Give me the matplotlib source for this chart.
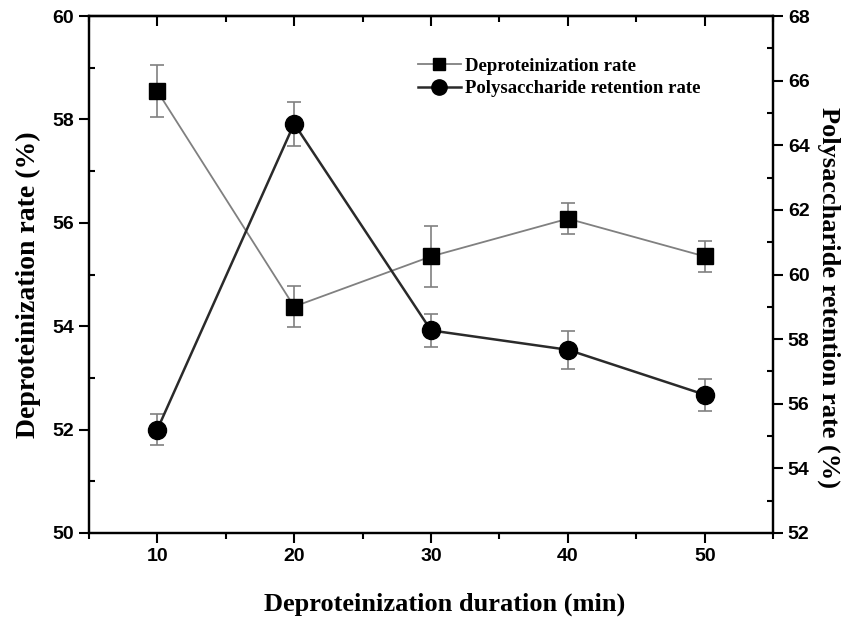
import matplotlib
matplotlib.use('Agg')
import matplotlib.pyplot as plt
from matplotlib.lines import Line2D
from matplotlib.ticker import MultipleLocator

duration = [10, 20, 30, 40, 50]
deprot_rate = [58.55, 54.38, 55.35, 56.08, 55.35]
deprot_err = [0.5, 0.4, 0.59, 0.3, 0.3]
poly_rate = [55.2, 64.67, 58.27, 57.67, 56.28]
poly_err = [0.48, 0.68, 0.5, 0.58, 0.5]

serif = 'Liberation Serif'
sans = 'Liberation Sans'

fig = plt.figure(figsize=(8.46, 6.19), dpi=100)
ax = fig.add_axes([0.105, 0.139, 0.809, 0.835])
ax2 = ax.twinx()

ax.errorbar(duration, deprot_rate, yerr=deprot_err, color='#808080', lw=1.3,
            marker='s', ms=12, mfc='black', mec='black', ecolor='#808080',
            elinewidth=1.2, capsize=5, capthick=1.2)
ax2.errorbar(duration, poly_rate, yerr=poly_err, color='#2a2a2a', lw=1.8,
             marker='o', ms=13, mfc='black', mec='black', ecolor='#808080',
             elinewidth=1.2, capsize=5, capthick=1.2)

ax.set_xlim(5, 55)
ax.set_ylim(50, 60)
ax2.set_ylim(52, 68)
ax.xaxis.set_major_locator(MultipleLocator(10))
ax.xaxis.set_minor_locator(MultipleLocator(5))
ax.yaxis.set_major_locator(MultipleLocator(2))
ax.yaxis.set_minor_locator(MultipleLocator(1))
ax2.yaxis.set_major_locator(MultipleLocator(2))
ax2.yaxis.set_minor_locator(MultipleLocator(1))

for a in (ax, ax2):
    for s in a.spines.values():
        s.set_linewidth(1.6)

ax.tick_params(axis='x', which='major', direction='out', length=7, width=1.5, top=False)
ax.tick_params(axis='x', which='minor', direction='out', length=4, width=1.5, top=False)
ax.tick_params(axis='y', which='major', direction='out', length=7, width=1.5)
ax.tick_params(axis='y', which='minor', direction='in', length=4, width=1.5)
ax2.tick_params(axis='y', which='major', direction='out', length=7, width=1.5)
ax2.tick_params(axis='y', which='minor', direction='in', length=4, width=1.5)

top = ax.secondary_xaxis('top')
top.xaxis.set_major_locator(MultipleLocator(10))
top.xaxis.set_minor_locator(MultipleLocator(5))
top.tick_params(which='major', direction='in', length=7, width=1.5, labeltop=False)
top.tick_params(which='minor', direction='in', length=4, width=1.5)
top.spines['top'].set_linewidth(1.6)

for lab in ax.get_xticklabels() + ax.get_yticklabels() + ax2.get_yticklabels():
    lab.set_fontfamily(sans)
    lab.set_fontweight('bold')
    lab.set_fontsize(14)

ax.set_xlabel('Deproteinization duration (min)', fontfamily=serif, fontweight='bold',
              fontsize=19, labelpad=20)
ax.set_ylabel('Deproteinization rate (%)', fontfamily=serif, fontweight='bold',
              fontsize=20, labelpad=8)
ax2.set_ylabel('Polysaccharide retention rate (%)', fontfamily=serif, fontweight='bold',
               fontsize=19, rotation=270, labelpad=22)
ax.xaxis.label.set_x(0.52)
ax.yaxis.label.set_y(0.48)
ax2.yaxis.label.set_y(0.455)

h1 = Line2D([], [], color='#808080', lw=1.3, marker='s', ms=9, mfc='black', mec='black')
h2 = Line2D([], [], color='#2a2a2a', lw=1.8, marker='o', ms=11, mfc='black', mec='black')
ax.legend([h1, h2], ['Deproteinization rate', 'Polysaccharide retention rate'],
          loc='upper left', bbox_to_anchor=(0.467, 0.938), frameon=False,
          prop={'family': serif, 'weight': 'bold', 'size': 13.5},
          handlelength=2.3, handletextpad=0.2, labelspacing=0.3, borderpad=0)

fig.savefig('out.png', dpi=100)
